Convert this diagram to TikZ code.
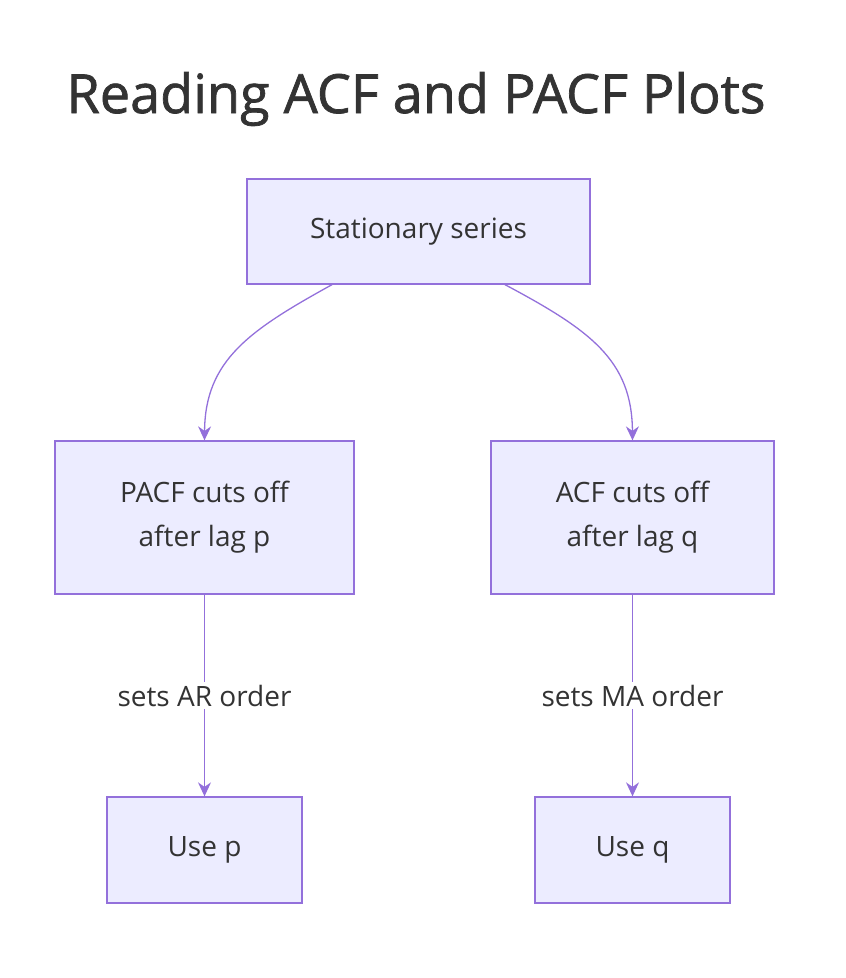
\documentclass[tikz,border=0pt]{standalone}
\usepackage{fontspec}
\setmainfont{Open Sans}
\newfontfamily\titlefont[FakeBold=1.3]{Open Sans}
\usetikzlibrary{arrows.meta}
\definecolor{boxfill}{HTML}{ECECFF}
\definecolor{boxline}{HTML}{9370DB}
\definecolor{txt}{HTML}{333333}
\tikzset{
  box/.style={draw=boxline, fill=boxfill, line width=1.3pt, text=txt,
    align=center, font=\fontsize{28}{44}\selectfont, inner sep=0pt},
  link/.style={draw=boxline, line width=1.3pt, -{Stealth[length=14pt,width=13pt]}},
  tag/.style={fill=white, text=txt, font=\fontsize{28}{32}\selectfont, inner sep=3pt}
}
\begin{document}
\begin{tikzpicture}[x=1pt,y=-1pt]
    \useasboundingbox (0,0) rectangle (846,978);
    % title
    \node[text=txt, font=\titlefont\fontsize{54}{60}\selectfont] (title) at (416,99) {Reading ACF and PACF Plots};
    % boxes
    \node[box, minimum width=343pt, minimum height=105pt] (stat) at (418.5,231.5) {Stationary series};
    \node[box, minimum width=299pt, minimum height=153pt] (pacf) at (204.5,517.5) {PACF cuts off\\after lag p};
    \node[box, minimum width=283pt, minimum height=153pt] (acf) at (632.5,517.5) {ACF cuts off\\after lag q};
    \node[box, minimum width=195pt, minimum height=106pt] (usep) at (204.5,850) {Use p};
    \node[box, minimum width=195pt, minimum height=106pt] (useq) at (632.5,850) {Use q};
    % connectors
    \draw[link] (stat.south -| 332,0) .. controls (250,330) and (205,360) .. (pacf.north);
    \draw[link] (stat.south -| 505,0) .. controls (590,330) and (632,360) .. (acf.north);
    \draw[link] (pacf) -- node[tag] {sets AR order} (usep);
    \draw[link] (acf) -- node[tag] {sets MA order} (useq);
\end{tikzpicture}
\end{document}
